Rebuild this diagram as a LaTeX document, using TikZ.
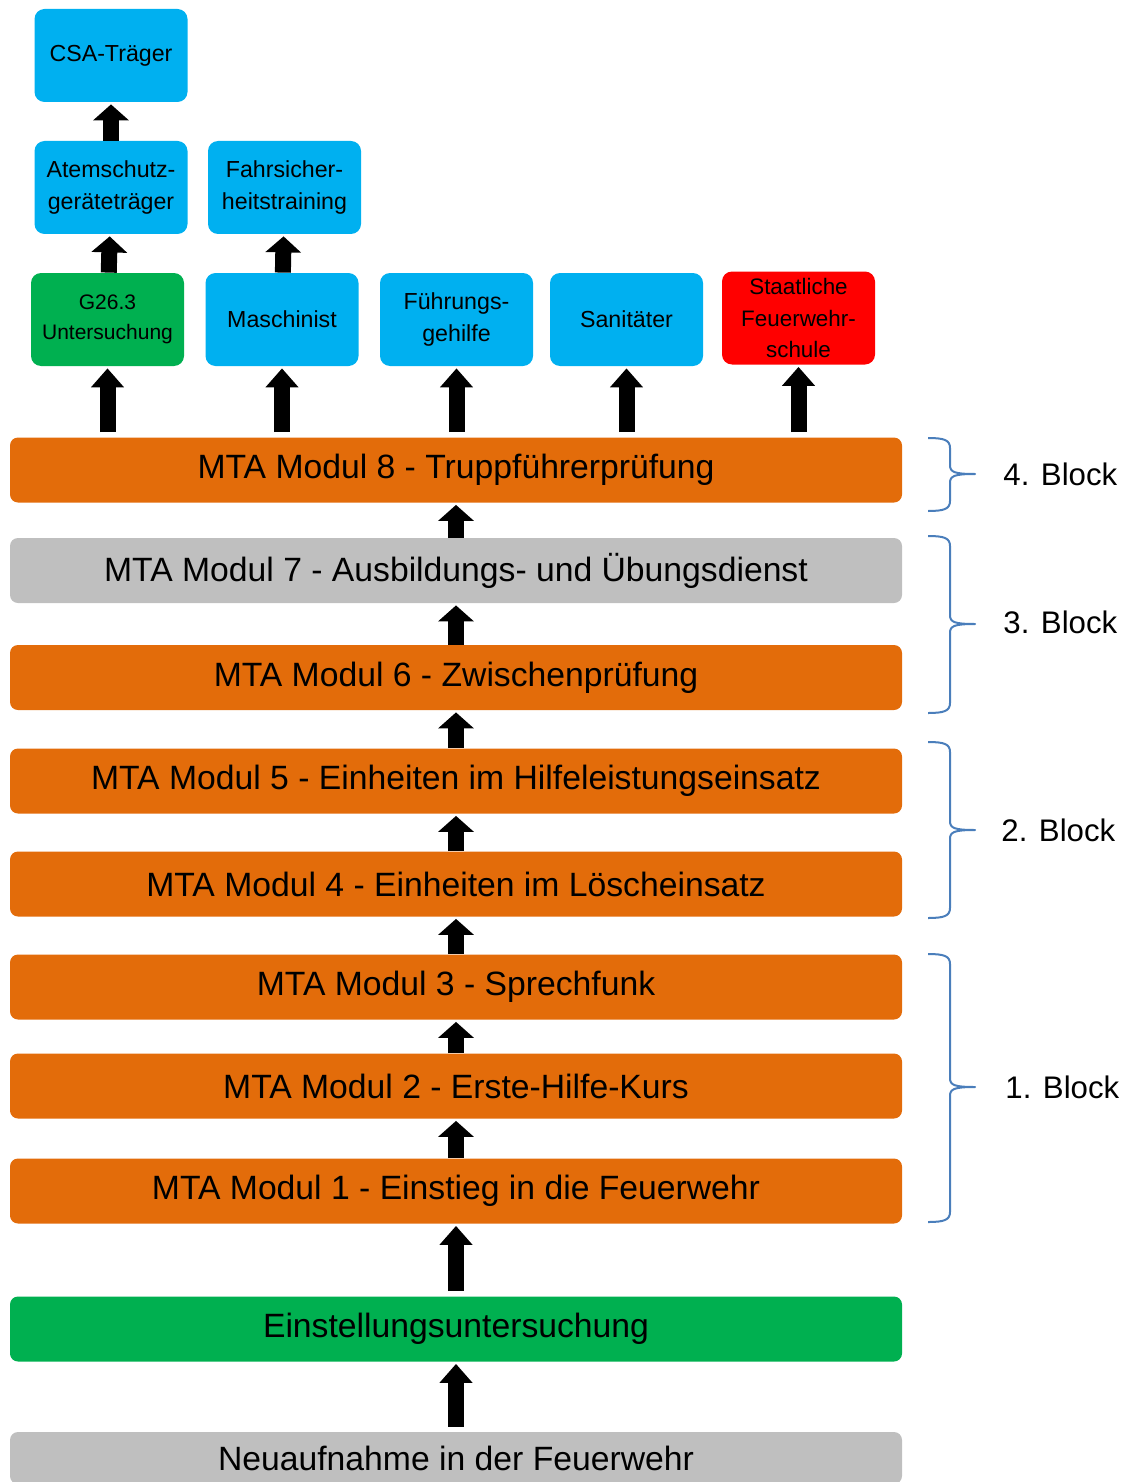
\documentclass[tikz,border=0pt]{standalone}
\usepackage{fontspec}
\setmainfont{Liberation Sans}
\usetikzlibrary{arrows.meta}
\definecolor{modorange}{RGB}{227,108,10}
\definecolor{modgrau}{RGB}{191,191,191}
\definecolor{untgruen}{RGB}{0,176,80}
\definecolor{kursblau}{RGB}{0,176,240}
\definecolor{schulrot}{RGB}{255,0,0}
\definecolor{klammerblau}{RGB}{74,126,187}
\tikzset{
  modul/.style={fill=modorange, rounded corners=4pt, minimum width=446pt, minimum height=32.5pt, inner sep=0pt, font=\fontsize{16.85}{20}\selectfont},
  kurs/.style={fill=kursblau, rounded corners=5pt, minimum width=76.5pt, minimum height=46.5pt, inner sep=0pt, align=center, font=\fontsize{11.6}{15.8}\selectfont},
  hoch/.style={line width=8pt, -{Triangle[width=17.5pt,length=8pt]}, shorten >=1pt},
  hochlang/.style={line width=8pt, -{Triangle[width=16pt,length=9.5pt]}, shorten >=1pt, shorten <=2.5pt},
  klammer/.style={draw=klammerblau, line width=1pt, line join=round},
  blocktext/.style={anchor=west, inner sep=0pt, font=\fontsize{15.6}{19}\selectfont}
}
% Klammer: oben, Mitte, unten
\newcommand{\klammerpfad}[3]{%
  \draw[klammer] (928,#1) .. controls (944,#1) and (950,#1+2) .. (950,#1+10)
    -- (950,#2-9) .. controls (950,#2-2) and (954,#2) .. (975,#2)
    .. controls (954,#2) and (950,#2+2) .. (950,#2+9)
    -- (950,#3-10) .. controls (950,#3-2) and (944,#3) .. (928,#3);}
\begin{document}
\begin{tikzpicture}[x=0.5pt,y=-0.5pt]
      \useasboundingbox (0,0) rectangle (1123,1482);
      % Module
      \node[modul] (m8) at (456,470) {MTA Modul 8 - Truppführerprüfung};
      \node[modul, fill=modgrau] (m7) at (456,570.5) {MTA Modul 7 - Ausbildungs- und Übungsdienst};
      \node[modul] (m6) at (456,677.5) {MTA Modul 6 - Zwischenprüfung};
      \node[modul] (m5) at (456,781) {MTA Modul 5 - Einheiten im Hilfeleistungseinsatz};
      \node[modul] (m4) at (456,884) {MTA Modul 4 - Einheiten im Löscheinsatz};
      \node[modul] (m3) at (456,987) {MTA Modul 3 - Sprechfunk};
      \node[modul] (m2) at (456,1086) {MTA Modul 2 - Erste-Hilfe-Kurs};
      \node[modul] (m1) at (456,1191) {MTA Modul 1 - Einstieg in die Feuerwehr};
      \node[modul, fill=untgruen] (einst) at (456,1329) {Einstellungsuntersuchung};
      \node[modul, fill=modgrau, minimum height=26pt] (neu) at (456,1458) {Neuaufnahme in der Feuerwehr};
      % Lehrgaenge
      \node[kurs] (csa) at (111,55.5) {CSA-Träger};
      \node[kurs] (atem) at (111,187.5) {Atemschutz-\\geräteträger};
      \node[kurs] (fahr) at (284.5,187.5) {Fahrsicher-\\heitstraining};
      \node[kurs, fill=untgruen, font=\fontsize{10.5}{15}\selectfont] (g26) at (107.5,319.5) {G26.3\\Untersuchung};
      \node[kurs] (masch) at (282,319.5) {Maschinist};
      \node[kurs] (fuehr) at (456.5,319.5) {Führungs-\\gehilfe};
      \node[kurs] (sani) at (626.5,319.5) {Sanitäter};
      \node[kurs, fill=schulrot, font=\fontsize{11.2}{15.8}\selectfont] (schule) at (798.5,318) {Staatliche\\Feuerwehr-\\schule};
      % Pfeile
      \draw[hoch] (m7) -- (m8);
      \draw[hoch] (m6) -- (m7);
      \draw[hoch] (m5) -- (m6);
      \draw[hoch] (m4) -- (m5);
      \draw[hoch] (m3) -- (m4);
      \draw[hoch] (m2) -- (m3);
      \draw[hoch] (m1) -- (m2);
      \draw[hochlang] (einst) -- (m1);
      \draw[hochlang] (neu) -- (einst);
      \draw[hoch] (atem) -- (csa);
      \draw[hoch] (g26) -- (atem);
      \draw[hoch] (masch) -- (fahr);
      \foreach \k in {g26,masch,fuehr,sani,schule}
        \draw[hochlang] (m8.north -| \k) -- (\k.south);
      % Bloecke
      \klammerpfad{438}{474}{511}
      \klammerpfad{536}{624}{713}
      \klammerpfad{742}{830}{918}
      \klammerpfad{954}{1087}{1222}
      \node[blocktext] (b4) at (1003,474) {4. Block};
      \node[blocktext] (b3) at (1003,622) {3. Block};
      \node[blocktext] (b2) at (1001,830) {2. Block};
      \node[blocktext] (b1) at (1005,1087) {1. Block};
    \end{tikzpicture}
\end{document}
